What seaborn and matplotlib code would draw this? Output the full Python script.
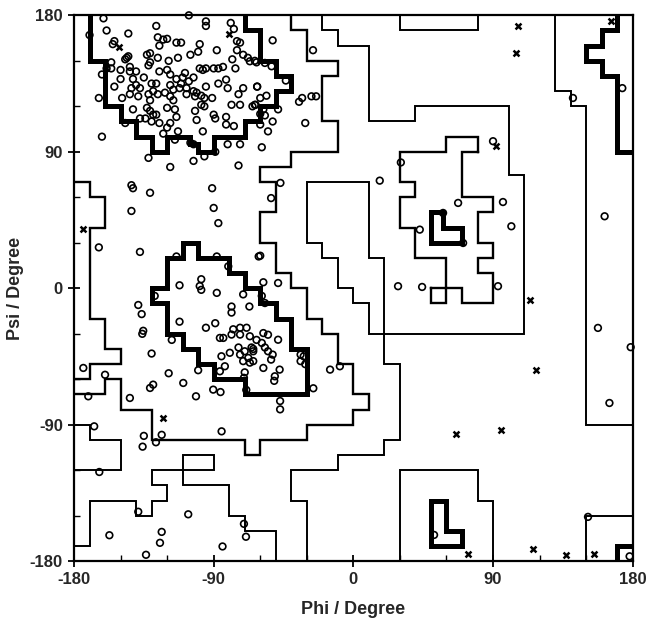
import numpy as np
import pandas as pd
import matplotlib
matplotlib.use("Agg")
import matplotlib.pyplot as plt
import seaborn as sns
from matplotlib.ticker import MultipleLocator

# ---------------- data (degrees) ----------------
# contour boundaries (phi, psi) vertices
beta_core = [(-170,180),(-170,150),(-160,150),(-160,120),(-150,120),(-150,110),(-140,110),(-140,100),
             (-130,100),(-130,90),(-120,90),(-120,100),(-105,100),(-105,95),(-100,95),(-100,90),(-90,90),
             (-90,100),(-70,100),(-70,110),(-60,110),(-60,120),(-50,120),(-50,130),(-40,130),(-40,140),
             (-50,140),(-50,150),(-60,150),(-60,170),(-70,170),(-70,180)]
alpha_core = [(-110,30),(-100,30),(-100,20),(-80,20),(-80,10),(-70,10),(-70,0),(-60,0),(-60,-10),(-50,-10),
              (-50,-20),(-40,-20),(-40,-40),(-30,-40),(-30,-70),(-70,-70),(-70,-60),(-90,-60),(-90,-50),
              (-100,-50),(-100,-40),(-110,-40),(-110,-30),(-120,-30),(-120,-10),(-130,-10),(-130,0),
              (-120,0),(-120,20),(-110,20),(-110,30)]
alphaL_core = [(50,50),(58,50),(58,40),(70,40),(70,30),(50,30),(50,50)]
bottomL_core = [(50,-140),(60,-140),(60,-160),(70,-160),(70,-170),(50,-170),(50,-140)]
right_core = [(170,180),(170,170),(160,170),(160,160),(150,160),(150,150),(160,150),(160,140),(170,140),
              (170,90),(180,90)]
corner_core = [(170,-180),(170,-170),(180,-170)]

allowed_main = [(-40,180),(-40,170),(-30,170),(-30,150),(-10,150),(-10,140),(-20,140),(-20,110),(-10,110),
                (-10,90),(-40,90),(-40,80),(-60,80),(-60,70),(-50,70),(-50,50),(-60,50),(-60,30),(-50,30),
                (-50,10),(-40,10),(-40,0),(-30,0),(-30,-20),(-20,-20),(-20,-30),(-10,-30),(-10,-50),(0,-50),
                (0,-70),(10,-70),(10,-80),(0,-80),(0,-90),(-30,-90),(-30,-100),(-60,-100),(-60,-110),
                (-70,-110),(-70,-100),(-130,-100),(-130,-80),(-150,-80),(-150,-60),(-160,-60),(-160,-70),
                (-180,-70)]
allowed_left = [(-180,70),(-170,70),(-170,60),(-160,60),(-160,40),(-170,40),(-170,-20),(-160,-20),
                (-160,-40),(-150,-40),(-150,-50),(-170,-50),(-170,-60),(-180,-60)]
allowed_alphaL = [(80,90),(70,90),(70,60),(90,60),(90,50),(80,50),(80,30),(90,30),(90,20),(80,20),(80,10),
                  (90,10),(90,-10),(70,-10),(70,0),(60,0),(60,20),(40,20),(40,40),(30,40),(30,60),(40,60),
                  (40,70),(30,70),(30,90),(60,90),(60,100),(80,100),(80,90)]
allowed_square = [(50,0),(60,0),(60,-10),(50,-10),(50,0)]

generous_main = [(-20,180),(-20,170),(-10,170),(-10,160),(10,160),(10,110),(40,110),(40,120),(100,120),
                 (100,75),(110,75),(110,-30),(10,-30),(10,-10),(0,-10),(0,0),(-10,0),(-10,20),(-20,20),
                 (-20,30),(-30,30),(-30,70),(10,70),(10,20),(20,20),(20,-50),(30,-50),(30,-100),(20,-100),
                 (20,-110),(-10,-110),(-10,-120),(-40,-120),(-40,-140),(-30,-140),(-30,-180)]
generous_top = [(30,180),(30,170),(80,170),(80,180)]
generous_right = [(130,180),(130,130),(140,130),(140,120),(150,120),(150,-90),(180,-90)]
generous_bright = [(150,-180),(150,-150),(180,-150)]
generous_bbox = [(30,-180),(30,-120),(80,-120),(80,-140),(90,-140),(90,-180)]
generous_lloop = [(-180,-90),(-170,-90),(-170,-100),(-150,-100),(-150,-120),(-180,-120)]
generous_bleft = [(-180,-170),(-170,-170),(-170,-140),(-140,-140),(-140,-150),(-130,-150),(-130,-140),
                  (-120,-140),(-120,-130),(-130,-130),(-130,-120),(-110,-120),(-110,-130),(-80,-130),
                  (-80,-150),(-70,-150),(-70,-160),(-50,-160),(-50,-180)]
generous_rect = [(-110,-120),(-110,-110),(-90,-110),(-90,-120),(-110,-120)]

# residues: open circles (phi, psi)
beta_pts = [(-161,178),(-106,180),(-95,176),(-95,173),(-79,175),(-77,171),(-159,170),(-145,168),(-127,173),
            (-170,167),(-154,163),(-155,161),(-126,165.5),(-122.5,164),(-120,164.5),(-114,162),(-111,162),
            (-99,161),(-100,156),(-105,154),(-88,157),(-75,163),(-73,162),(-75,157),(-71,154),(-68,152),
            (-63.5,150),(-78,151),(-125,160),(-131,155),(-133,154),(-146,152),(-145,153),(-147,151),
            (-126,152),(-119,150),(-113,152),(-156,149),(-159,145),(-156,145),(-162,141),(-150,144),
            (-144,146),(-131,149),(-132,147),(-140,143),(-144,143),(-125,143),(-120,144),(-118,141),
            (-108.5,142),(-110,139),(-114,138),(-111,135),(-106,136.5),(-103,139),(-99,145),(-97,144),
            (-95,145),(-90,145),(-87,145),(-84,146),(-76,145),(-135,139),(-142,138),(-150,138),(-154,133),
            (-143,132),(-140,134),(-137.5,132),(-130,135),(-127,135),(-129,130),(-118,134),(-116,131),
            (-112,132),(-107.5,132),(-103,130),(-101,129),(-98,127),(-96,125.5),(-95,133),(-87,135),
            (-82,137.6),(-81,132),(-71,132),(-62,133),(-164,125.5),(-149,125.5),(-144,128),(-138.6,126.6),
            (-132,128),(-126,128),(-131,124),(-121.4,129),(-118,126.6),(-116,124),(-107.5,128),
            (-102,126.6),(-98,121),(-96,120),(-91,125.5),(-74,128),(-78.5,121),(-73,121),(-63.5,121),
            (-142,118),(-133,119),(-131,117),(-129,114.5),(-127,114.5),(-120,119),(-115,118),(-114,113),
            (-102,117),(-101,111),(-90,114.5),(-89,112),(-82,113),(-82,108),(-77,107),(-147,109),
            (-137.5,112),(-134,112),(-130,110),(-125,109),(-118,109),(-120,106),(-122.5,102),
            (-113,103.5),(-97,103.5),(-162,100),(-115,98),(-105,96),(-103,95),(-81,95),(-73,95),(-89,90),
            (-96,87),(-103,84),(-132,86),(-118,80),(-74,81),(-143,68),(-142,66),(-131,63),(-91,66),
            (-66.7,149.7),(-62.4,149),(-57,148.6),(-52.7,146.4),(-43.5,137),(-62,133),(-60,125.5),
            (-56,127),(-63,121),(-65,120),(-58,118),(-48.5,118),(-57,114),(-60,115),(-52,110),(-60,108),
            (-55,103.5),(-59,93),(-52,163.5),(-26,157),(-33,125.5),(-35,123),(-27,126.6),(-24,126.6),
            (-31,109),(-47,69.5)]
alpha_pts = [(-143,51),(-90,53),(-87,43),(-164,27),(-137.5,24),(-61,21),(-114,21),(-88,21),(-80.6,14.5),
             (-98,6),(-99,1.5),(-98,-1),(-112,2),(-88,-3),(-128,-5),(-71,-4),(-67,-12),(-78.5,-12),
             (-78.5,-16),(-138.6,-11),(-136.4,-17),(-135.4,-28),(-136,-30),(-112,-22),(-95,-26),(-89,-23),
             (-77.4,-27),(-73,-26),(-68.8,-26),(-78.5,-30.5),(-73,-30.5),(-66.7,-31.6),(-83.8,-32.7),
             (-86,-32.7),(-74,-39),(-70,-41.5),(-73,-43.7),(-65.6,-39),(-64.5,-41.5),(-67.7,-45.9),
             (-71,-48),(-66.7,-49),(-79.6,-42.5),(-85,-44.8),(-82.8,-51.4),(-86,-54.7),(-70,-55.4),
             (-117,-34),(-130,-43),(-100,-54),(-119,-56),(-174,-52.5),(-160,-57),(-58,-29.5),(-55,-30.6),
             (-48.5,-33.9),(-62.4,-34),(-59,-36),(-57,-39),(-64.5,-40),(-55,-41.5),(-52,-43.7),(-53,-47),
             (-64.5,-48),(-58,-52.5),(-47.5,-53.6),(-50.6,-58),(-34,-43.7),(-32,-44.8),(-34,-48),(-31,-50),
             (-15,-53.6),(-8.7,-51.4),(-53,59.5),(-60,21.5),(-58,4),(-48.5,3.5),(-59,-5),(-57,-9.7),
             (-25.8,-65.9),(-47.2,-74.3),(-47.2,-79.8),(-51,-61)]
lower_pts = [(-70.5,-59),(-69,-67),(-131,-65.7),(-129,-63.5),(-109.6,-62.4),(-90.3,-66.8),(-85.6,-68.4),
             (-101.4,-71.2),(-144,-72.3),(-170.8,-71.2),(-167,-91),(-135,-97.3),(-135.8,-104.4),
             (-127.2,-101.5),(-123.5,-96.6),(-84.9,-94.3),(-163.7,-121.1),(-138.6,-147.3),(-106.4,-149),
             (-157.2,-162.8),(-123.5,-160.6),(-124.6,-167.8),(-70.5,-155.3),(-69.2,-163.8),(-84.3,-170.2),
             (-133.6,-175.7)]
right_pts = [(17,71),(30.6,83),(90,97),(67.5,56.3),(96.4,56.9),(101.8,40.9),(57.8,49.7),(70.7,29.9),
             (93.2,1.4),(42.8,38.7),(28.8,1.4),(44.3,0.9),(141.5,125.5),(173.3,132),(161.9,47.5),
             (157.6,-26.1),(178.7,-38.8),(165,-75.6),(151.2,-150.7),(178,-176.7),(52,-162.6)]
# residues: crosses (phi, psi)
cross_pts = [(-151,159),(-80,168),(-174,39),(-122.5,-85.5),(106,173),(104.6,155),(166,176),(92,94),
             (113.6,-8),(117.5,-54),(66.4,-96),(95,-93.6),(74,-175),(116,-172),(137,-176),(155,-175)]

x_ticks = [-180, -90, 0, 90, 180]
y_ticks = [-180, -90, 0, 90, 180]
x_label = "Phi / Degree"
y_label = "Psi / Degree"

# ---------------- plotting ----------------
sns.set_theme(style="white")
plt.rcParams['font.family'] = ['Liberation Sans', 'DejaVu Sans']
plt.rcParams['axes.unicode_minus'] = False

fig = plt.figure(figsize=(6.48, 6.23), dpi=100)
ax = fig.add_axes([0.1142, 0.0990, 0.8622, 0.8764])


def paths_df(paths):
    rows = []
    for i, p in enumerate(paths):
        for j, (a, b) in enumerate(p):
            rows.append({"phi": a, "psi": b, "seg": i, "order": j})
    return pd.DataFrame(rows)


groups = [
    ([generous_main, generous_top, generous_right, generous_bright, generous_bbox,
      generous_lloop, generous_bleft, generous_rect], 1.4),
    ([allowed_main, allowed_left, allowed_alphaL, allowed_square], 1.7),
    ([beta_core, alpha_core, alphaL_core, bottomL_core, right_core, corner_core], 3.6),
]
for paths, lw in groups:
    df = paths_df(paths)
    sns.lineplot(data=df, x="phi", y="psi", units="seg", estimator=None, sort=False,
                 color="black", linewidth=lw, ax=ax, solid_joinstyle="miter", solid_capstyle="projecting")

circ = pd.DataFrame(beta_pts + alpha_pts + lower_pts + right_pts, columns=["phi", "psi"])
sns.scatterplot(data=circ, x="phi", y="psi", marker="o", s=23, fc="none", ec="black",
                linewidth=1.2, ax=ax, clip_on=False, zorder=5)
crs = pd.DataFrame(cross_pts, columns=["phi", "psi"])
sns.scatterplot(data=crs, x="phi", y="psi", marker="x", s=18, color="black",
                linewidth=1.8, ax=ax, clip_on=False, zorder=5)

ax.set_xlim(-180, 180)
ax.set_ylim(-180, 180)
ax.set_xticks(x_ticks)
ax.set_yticks(y_ticks)
ax.xaxis.set_minor_locator(MultipleLocator(30))
ax.yaxis.set_minor_locator(MultipleLocator(30))
ax.tick_params(which="major", direction="inout", length=8, width=1.3, color="black",
               labelsize=12, pad=4, bottom=True, left=True)
ax.tick_params(which="minor", direction="in", length=4, width=1.0, color="black", bottom=True, left=True)
for lab in ax.get_xticklabels() + ax.get_yticklabels():
    lab.set_fontweight("bold")
for s in ax.spines.values():
    s.set_visible(True)
    s.set_color("black")
    s.set_linewidth(1.6)

ax.set_xlabel(x_label, fontsize=13, fontweight="bold", labelpad=10)
ax.set_ylabel(y_label, fontsize=13, fontweight="bold", labelpad=4)

fig.savefig("out.png", dpi=100, facecolor="white")
